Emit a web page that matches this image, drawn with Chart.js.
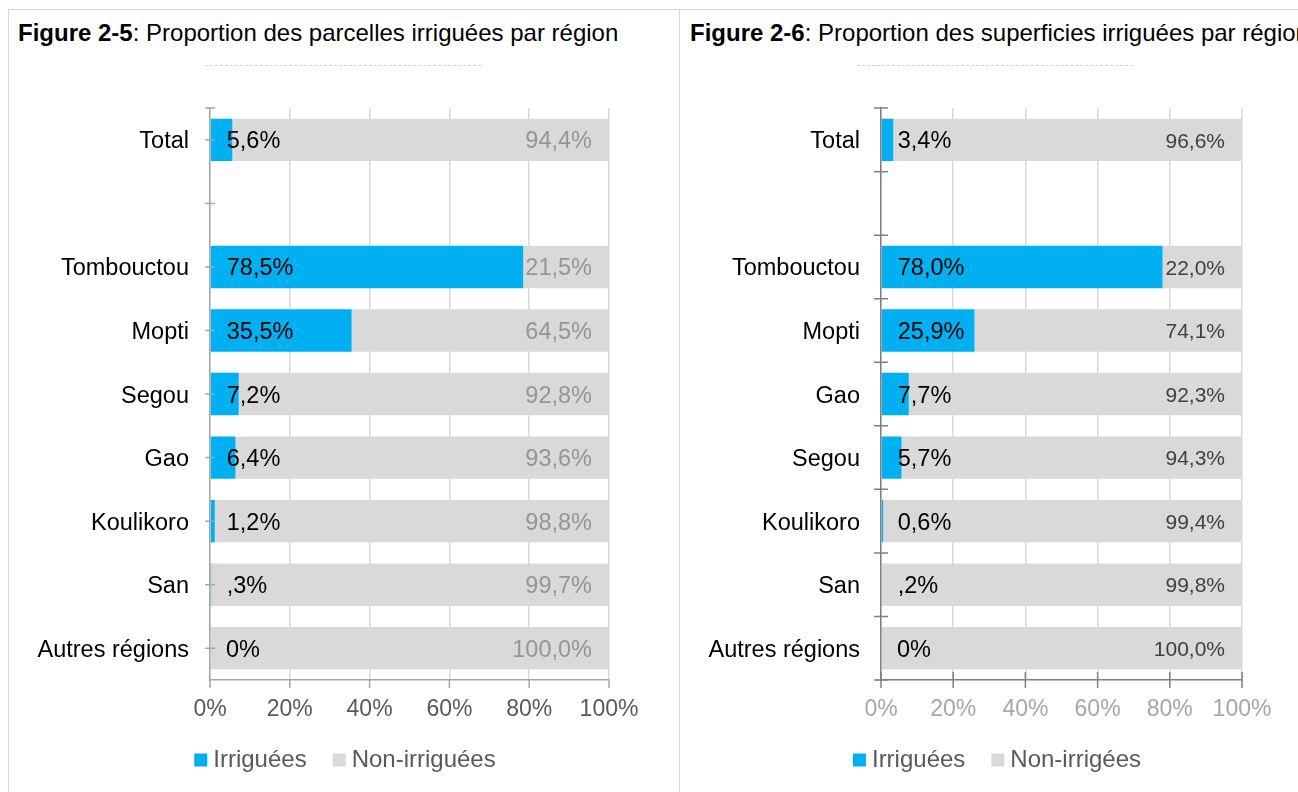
<!DOCTYPE html>
<html>
<head>
<meta charset="utf-8">
<script src="https://cdn.jsdelivr.net/npm/chart.js@4.4.1/dist/chart.umd.min.js"></script>
<style>
html,body{margin:0;padding:0;background:#fff;overflow:hidden;width:1298px;height:792px;}
body{position:relative;font-family:'Liberation Sans',Arial,sans-serif;}
.frame{position:absolute;border:1px solid #d9d9d9;}
.title{position:absolute;top:19px;font-size:24px;line-height:28px;color:#000;white-space:nowrap;}
.dash{position:absolute;top:65px;height:0;border-top:1px dashed #d3d3d3;}
canvas{position:absolute;top:73px;}
</style>
</head>
<body>
<div class="frame" style="left:8px;top:9px;width:670px;height:800px"></div>
<div class="frame" style="left:679px;top:9px;width:700px;height:800px"></div>
<div class="title" style="left:18px"><b>Figure 2-5</b>: Proportion des parcelles irriguées par région</div>
<div class="title" style="left:690px"><b>Figure 2-6</b>: Proportion des superficies irriguées par région</div>
<div class="dash" style="left:205px;width:276px"></div>
<div class="dash" style="left:857px;width:276px"></div>
<canvas id="c5" width="680" height="719" style="left:8px"></canvas>
<canvas id="c6" width="640" height="719" style="left:680px"></canvas>
<script>
// ---- Data: Figure 2-5 (parcelles) ----
const categories5 = ['Total', '', 'Tombouctou', 'Mopti', 'Segou', 'Gao', 'Koulikoro', 'San', 'Autres régions'];
const irriguees5 = [5.6, null, 78.5, 35.5, 7.2, 6.4, 1.2, 0.3, 0];
const nonIrriguees5 = [94.4, null, 21.5, 64.5, 92.8, 93.6, 98.8, 99.7, 100];
const irrLabels5 = ['5,6%', '', '78,5%', '35,5%', '7,2%', '6,4%', '1,2%', ',3%', '0%'];
const nonLabels5 = ['94,4%', '', '21,5%', '64,5%', '92,8%', '93,6%', '98,8%', '99,7%', '100,0%'];
const seriesNames5 = ['Irriguées', 'Non-irriguées'];

// ---- Data: Figure 2-6 (superficies) ----
const categories6 = ['Total', '', 'Tombouctou', 'Mopti', 'Gao', 'Segou', 'Koulikoro', 'San', 'Autres régions'];
const irriguees6 = [3.4, null, 78.0, 25.9, 7.7, 5.7, 0.6, 0.2, 0];
const nonIrriguees6 = [96.6, null, 22.0, 74.1, 92.3, 94.3, 99.4, 99.8, 100];
const irrLabels6 = ['3,4%', '', '78,0%', '25,9%', '7,7%', '5,7%', '0,6%', ',2%', '0%'];
const nonLabels6 = ['96,6%', '', '22,0%', '74,1%', '92,3%', '94,3%', '99,4%', '99,8%', '100,0%'];
const seriesNames6 = ['Irriguées', 'Non-irrigées'];

const xTickLabels = ['0%', '20%', '40%', '60%', '80%', '100%'];

const FONT = "'Liberation Sans', Arial, sans-serif";
Chart.defaults.font.family = FONT;

function decorPlugin(s) {
  return {
    id: 'decor',
    afterDatasetsDraw(chart) {
      const ctx = chart.ctx, xs = chart.scales.x, ys = chart.scales.y, ca = chart.chartArea;
      ctx.save();
      ctx.strokeStyle = s.axisColor;
      ctx.lineWidth = 1.5;
      const yPos = [];
      const n = ys.ticks.length;
      if (s.yTickMode === 'center') {
        yPos.push(ys.getPixelForValue(-0.5));
        for (let i = 0; i < n; i++) yPos.push(ys.getPixelForTick(i));
      } else {
        for (let i = 0; i <= n; i++) yPos.push(ys.getPixelForValue(i - 0.5));
      }
      ctx.beginPath();
      yPos.forEach(p => { ctx.moveTo(ca.left - s.yTickHalf, p); ctx.lineTo(ca.left + s.yTickHalf, p); });
      for (let i = 0; i < xs.ticks.length; i++) {
        const p = xs.getPixelForTick(i);
        ctx.moveTo(p, ca.bottom - s.xTickUp);
        ctx.lineTo(p, ca.bottom + 8);
      }
      ctx.stroke();
      ctx.textBaseline = 'middle';
      const m0 = chart.getDatasetMeta(0), m1 = chart.getDatasetMeta(1);
      ctx.font = '23.5px ' + FONT;
      ctx.fillStyle = '#000';
      ctx.textAlign = 'left';
      m0.data.forEach((bar, i) => {
        if (!s.irrLabels[i]) return;
        ctx.fillText(s.irrLabels[i], bar.base + 16, bar.y + 2);
      });
      ctx.font = s.nonFont + 'px ' + FONT;
      ctx.fillStyle = s.nonColor;
      ctx.textAlign = 'right';
      m1.data.forEach((bar, i) => {
        if (!s.nonLabels[i]) return;
        ctx.fillText(s.nonLabels[i], bar.x - 17, bar.y + 2);
      });
      ctx.restore();
    }
  };
}

function makeChart(id, cats, irr, non, names, s) {
  return new Chart(document.getElementById(id), {
    type: 'bar',
    data: {
      labels: cats,
      datasets: [
        { label: names[0], data: irr, yAxisID: 'y', backgroundColor: '#00B0F0', barPercentage: 0.667, categoryPercentage: 1 },
        { label: names[1], data: non, yAxisID: 'y', backgroundColor: '#D9D9D9', barPercentage: 0.667, categoryPercentage: 1 }
      ]
    },
    options: {
      indexAxis: 'y',
      responsive: false,
      animation: false,
      events: [],
      layout: { padding: { left: 0, right: 0, top: 35, bottom: 10 } },
      scales: {
        x: {
          stacked: true, min: 0, max: 100,
          ticks: { stepSize: 20, autoSkip: false, maxRotation: 0, padding: 16,
                   color: s.xLabelColor, font: { size: 23 },
                   callback: (v, i) => xTickLabels[i] },
          grid: { color: '#d9d9d9', lineWidth: 1.5, drawTicks: false },
          border: { display: true, color: s.axisColor, width: 1.5 },
          afterFit: sc => { sc.height = 36; }
        },
        y: {
          stacked: true,
          ticks: { autoSkip: false, padding: 21, labelOffset: 2, color: '#000', font: { size: 23.5 } },
          grid: { display: false, drawTicks: false },
          border: { display: true, color: s.axisColor, width: 1.5, z: 1 },
          afterFit: sc => { sc.width = s.yWidth; }
        },
        gap: {
          type: 'linear', axis: 'y', position: 'right',
          ticks: { display: false },
          grid: { display: false, drawTicks: false },
          border: { display: false },
          afterFit: sc => { sc.width = s.rightGap; }
        }
      },
      plugins: {
        legend: {
          position: 'bottom',
          labels: { usePointStyle: true, pointStyle: 'rect', boxWidth: 1, boxHeight: 13,
                    padding: 32, color: '#595959', font: { size: 24 } }
        },
        tooltip: { enabled: false }
      }
    },
    plugins: [decorPlugin(s)]
  });
}

makeChart('c5', categories5, irriguees5, nonIrriguees5, seriesNames5, {
  yWidth: 202, rightGap: 79, axisColor: '#a6a6a6', xLabelColor: '#595959',
  yTickMode: 'center', yTickHalf: 5, xTickUp: 0,
  irrLabels: irrLabels5, nonLabels: nonLabels5, nonColor: '#959595', nonFont: 23.5
});
makeChart('c6', categories6, irriguees6, nonIrriguees6, seriesNames6, {
  yWidth: 201, rightGap: 78, axisColor: '#808080', xLabelColor: '#a6a6a6',
  yTickMode: 'boundary', yTickHalf: 7, xTickUp: 8,
  irrLabels: irrLabels6, nonLabels: nonLabels6, nonColor: '#404040', nonFont: 21
});
</script>
</body>
</html>
